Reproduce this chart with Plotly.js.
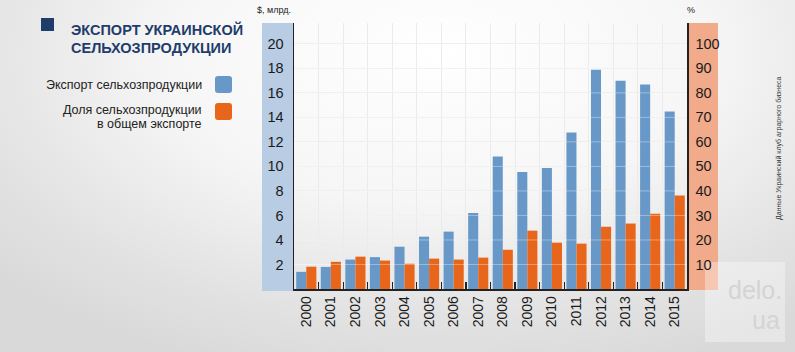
<!DOCTYPE html>
<html>
<head>
<meta charset="utf-8">
<script src="https://cdn.plot.ly/plotly-3.0.1.min.js"></script>
<style>
html,body{margin:0;padding:0;}
body{width:795px;height:352px;overflow:hidden;
background: radial-gradient(ellipse 75% 95% at 55% 15%, #ffffff 0%, #f6f6f6 45%, #e2e2e2 80%, #d9d9d9 100%);}
#chart{width:795px;height:352px;}
</style>
</head>
<body>
<div id="chart"></div>
<script>
const years = ['2000','2001','2002','2003','2004','2005','2006','2007','2008','2009','2010','2011','2012','2013','2014','2015'];
const exportBn = [1.4, 1.8, 2.4, 2.6, 3.45, 4.27, 4.68, 6.2, 10.8, 9.55, 9.88, 12.76, 17.88, 16.98, 16.68, 14.48];
const sharePct = [9.1, 11.1, 13.2, 11.6, 10.3, 12.4, 12.0, 12.8, 16.0, 23.8, 18.9, 18.5, 25.4, 26.7, 30.7, 38.1];
const leftTicks = [2,4,6,8,10,12,14,16,18,20];
const rightTicks = [10,20,30,40,50,60,70,80,90,100];
const titleLines = ['ЭКСПОРТ УКРАИНСКОЙ','СЕЛЬХОЗПРОДУКЦИИ'];
const legendExport = 'Экспорт сельхозпродукции';
const legendShare = ['Доля сельхозпродукции','в общем экспорте'];
const leftUnit = '$, млрд.';
const rightUnit = '%';
const sourceText = 'Данные Украинский клуб аграрного бизнеса';
const watermark = ['delo.','ua'];

const W = 795, H = 352;
const M = {l:294, r:108, t:23, b:63};
const PW = W - M.l - M.r, PH = H - M.t - M.b;
const px = x => (x - M.l) / PW;
const py = y => (H - M.b - y) / PH;

const BLUE = '#6898c8', ORANGE = '#e8661c';
const FONT = 'Liberation Sans, Arial, sans-serif';

function roundRect(x0,y0,x1,y1,r){
  const X0=px(x0),X1=px(x1),Y0=py(y0),Y1=py(y1);
  const rx=r/PW, ry=r/PH;
  return `M ${X0+rx},${Y0} L ${X1-rx},${Y0} Q ${X1},${Y0} ${X1},${Y0-ry} L ${X1},${Y1+ry} Q ${X1},${Y1} ${X1-rx},${Y1} L ${X0+rx},${Y1} Q ${X0},${Y1} ${X0},${Y1+ry} L ${X0},${Y0-ry} Q ${X0},${Y0} ${X0+rx},${Y0} Z`;
}

const traces = [
  {type:'bar', x:years, y:exportBn, yaxis:'y', offsetgroup:'a', marker:{color:BLUE}, hoverinfo:'skip', name:legendExport},
  {type:'bar', x:years, y:sharePct, yaxis:'y2', offsetgroup:'b', marker:{color:ORANGE}, hoverinfo:'skip', name:legendShare.join(' ')}
];

const shapes = [
  {type:'rect', xref:'paper', yref:'paper', x0:px(262), x1:0, y0:py(291), y1:1, fillcolor:'#b8cce4', line:{width:0}, layer:'below'},
  {type:'rect', xref:'paper', yref:'paper', x0:1, x1:px(718), y0:py(290), y1:1, fillcolor:'#f1ab8b', line:{width:0}, layer:'below'},
  {type:'rect', xref:'paper', yref:'paper', x0:px(41), x1:px(54), y0:py(31), y1:py(18), fillcolor:'#1f3d6b', line:{width:0}},
  {type:'path', xref:'paper', yref:'paper', path:roundRect(215,76,232,93,3), fillcolor:BLUE, line:{width:0}},
  {type:'path', xref:'paper', yref:'paper', path:roundRect(215,103,232,120,3), fillcolor:ORANGE, line:{width:0}},
  {type:'rect', xref:'paper', yref:'paper', x0:px(705), x1:px(785), y0:py(342), y1:py(262), fillcolor:'rgba(255,255,255,0.35)', line:{width:0}, layer:'below'}
].concat(leftTicks.map(v => ({type:'line', xref:'paper', yref:'y', x0:0, x1:1, y0:v, y1:v, line:{color:'rgba(255,255,255,0.35)', width:1}, layer:'above'})));

const titleFont = {family:FONT, size:14.5, color:'#1f3d6b', weight:'bold'};
const annotations = [
  {text:titleLines[0], xref:'paper', yref:'paper', x:px(69), y:py(30), xanchor:'left', yanchor:'middle', showarrow:false, font:titleFont},
  {text:titleLines[1], xref:'paper', yref:'paper', x:px(69), y:py(48), xanchor:'left', yanchor:'middle', showarrow:false, font:titleFont},
  {text:legendExport, xref:'paper', yref:'paper', x:px(204), y:py(85), xanchor:'right', yanchor:'middle', showarrow:false, font:{family:FONT, size:12.5, color:'#222'}},
  {text:legendShare[0], xref:'paper', yref:'paper', x:px(204), y:py(110), xanchor:'right', yanchor:'middle', showarrow:false, font:{family:FONT, size:12.5, color:'#222'}},
  {text:legendShare[1], xref:'paper', yref:'paper', x:px(204), y:py(124), xanchor:'right', yanchor:'middle', showarrow:false, font:{family:FONT, size:12.5, color:'#222'}},
  {text:leftUnit, xref:'paper', yref:'paper', x:px(274), y:py(10), xanchor:'center', yanchor:'middle', showarrow:false, font:{family:FONT, size:9, color:'#222'}},
  {text:rightUnit, xref:'paper', yref:'paper', x:px(691), y:py(10), xanchor:'center', yanchor:'middle', showarrow:false, font:{family:FONT, size:9, color:'#222'}},
  {text:sourceText, xref:'paper', yref:'paper', x:px(779), y:py(148), xanchor:'center', yanchor:'middle', textangle:-90, showarrow:false, font:{family:FONT, size:7, color:'#333'}},
  {text:watermark[0], xref:'paper', yref:'paper', x:px(784), y:py(290), xanchor:'right', yanchor:'middle', showarrow:false, font:{family:FONT, size:25, color:'#d4d4d4'}},
  {text:watermark[1], xref:'paper', yref:'paper', x:px(782), y:py(320), xanchor:'right', yanchor:'middle', showarrow:false, font:{family:FONT, size:25, color:'#d4d4d4'}}
];

const layout = {
  width:W, height:H,
  margin:M,
  paper_bgcolor:'rgba(0,0,0,0)',
  plot_bgcolor:'rgba(0,0,0,0)',
  showlegend:false,
  barmode:'group', bargap:0.18, bargroupgap:0,
  font:{family:FONT, color:'#1a1a1a'},
  xaxis:{type:'category', tickangle:-90, ticks:'inside', tickson:'boundaries', ticklen:7, tickwidth:1.2, tickcolor:'#222',
         showline:true, linecolor:'#222', linewidth:1.5, showgrid:true, gridcolor:'#ebebeb', gridwidth:1,
         tickfont:{size:14, color:'#1a1a1a'}, layer:'above traces'},
  yaxis:{range:[0,21.7], tickmode:'array', tickvals:leftTicks, ticktext:leftTicks.map(String), ticks:'', showline:true, linecolor:'#222', linewidth:1.5,
         showgrid:true, gridcolor:'#ebebeb', zeroline:false, ticklabelstandoff:6, tickfont:{size:14.5, color:'#1a1a1a'}, fixedrange:true},
  yaxis2:{range:[0,108.5], overlaying:'y', side:'right', tickmode:'array', tickvals:rightTicks, ticktext:rightTicks.map(String), ticks:'', showline:true,
          linecolor:'#222', linewidth:1.5, showgrid:false, zeroline:false, ticklabelstandoff:4, tickfont:{size:14.5, color:'#1a1a1a'}},
  shapes:shapes,
  annotations:annotations
};

Plotly.newPlot('chart', traces, layout, {staticPlot:true, displayModeBar:false});
</script>
</body>
</html>
